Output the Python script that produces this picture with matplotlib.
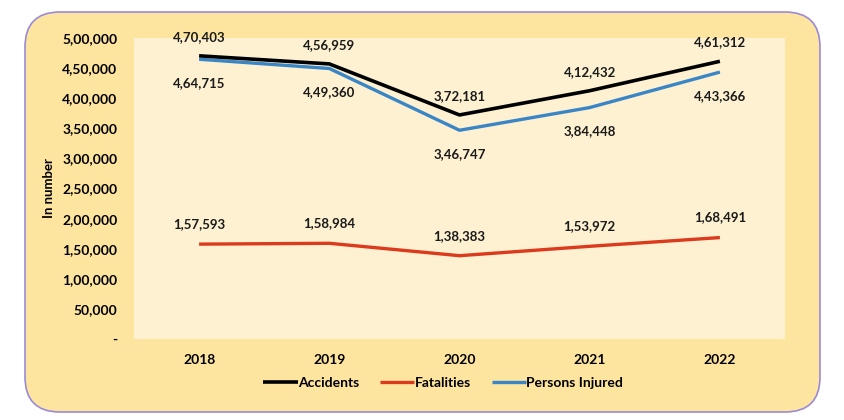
import matplotlib
matplotlib.use('agg')
import matplotlib.pyplot as plt
from matplotlib.patches import FancyBboxPatch

years = ['2018', '2019', '2020', '2021', '2022']
accidents = [470403, 456959, 372181, 412432, 461312]
fatalities = [157593, 158984, 138383, 153972, 168491]
injured = [464715, 449360, 346747, 384448, 443366]
y_ticks = [0, 50000, 100000, 150000, 200000, 250000, 300000, 350000, 400000, 450000, 500000]


def indian_format(n):
    # lakh style grouping: 4,70,403
    if n == 0:
        return '-'
    s = str(int(n))
    last3 = s[-3:]
    rest = s[:-3]
    parts = []
    while len(rest) > 2:
        parts.insert(0, rest[-2:])
        rest = rest[:-2]
    if rest:
        parts.insert(0, rest)
    return ','.join(parts + [last3])


plt.rcParams['font.family'] = ['Lato', 'DejaVu Sans']

W, H = 844, 420
fig = plt.figure(figsize=(W / 100, H / 100), dpi=100)
fig.patch.set_facecolor('white')

# background box with rounded corners, drawn in pixel-like coords
bg = fig.add_axes([0, 0, 1, 1])
bg.set_xlim(0, W)
bg.set_ylim(H, 0)
bg.axis('off')
box = FancyBboxPatch((25 + 35, 12 + 35), 795 - 70, 400 - 70,
                     boxstyle='round,pad=35,rounding_size=35',
                     facecolor='#fde59f', edgecolor='#9b8ad8', linewidth=1.2)
bg.add_patch(box)

# main plot area
left, right, top, bottom = 134, 785, 38, 339
ax = fig.add_axes([left / W, 1 - bottom / H, (right - left) / W, (bottom - top) / H])
ax.set_facecolor('#fdf1d1')
for sp in ax.spines.values():
    sp.set_visible(False)

x = list(range(len(years)))
ax.plot(x, fatalities, color='#dc3a1c', linewidth=2.4, solid_capstyle='butt', label='Fatalities', zorder=3)
ax.plot(x, accidents, color='#000000', linewidth=2.6, solid_capstyle='butt', label='Accidents', zorder=4)
ax.plot(x, injured, color='#3a85c6', linewidth=2.4, solid_capstyle='butt', label='Persons Injured', zorder=3)

ax.set_xlim(-0.5, len(years) - 0.5)
ax.set_ylim(0, 500000)
ax.set_xticks(x)
ax.set_xticklabels(years, fontsize=10, fontweight='bold')
ax.set_yticks(y_ticks)
ax.set_yticklabels([indian_format(v) for v in y_ticks], fontsize=10, fontweight='bold')
ax.tick_params(axis='both', length=0)
ax.tick_params(axis='y', pad=12)
ax.tick_params(axis='x', pad=11)
ax.set_ylabel('In number', fontsize=9.5, fontweight='bold', labelpad=5)

lab_style = dict(textcoords='offset pixels', ha='center', va='center', fontsize=9.5,
                 fontweight='bold', color='#1a1a1a')
for i in x:
    ax.annotate(indian_format(accidents[i]), (i, accidents[i]), xytext=(0, 19), **lab_style)
    ax.annotate(indian_format(injured[i]), (i, injured[i]), xytext=(0, -24), **lab_style)
    ax.annotate(indian_format(fatalities[i]), (i, fatalities[i]), xytext=(0, 20), **lab_style)

handles, labels = ax.get_legend_handles_labels()
order = [1, 0, 2]
leg = fig.legend([handles[k] for k in order], [labels[k] for k in order],
                 loc='center', bbox_to_anchor=(443 / W, 1 - 383 / H), ncol=3,
                 frameon=False, handlelength=2.5, handletextpad=0.0, columnspacing=1.5,
                 prop={'size': 10, 'weight': 'bold'})

fig.savefig('out.png', dpi=100)
